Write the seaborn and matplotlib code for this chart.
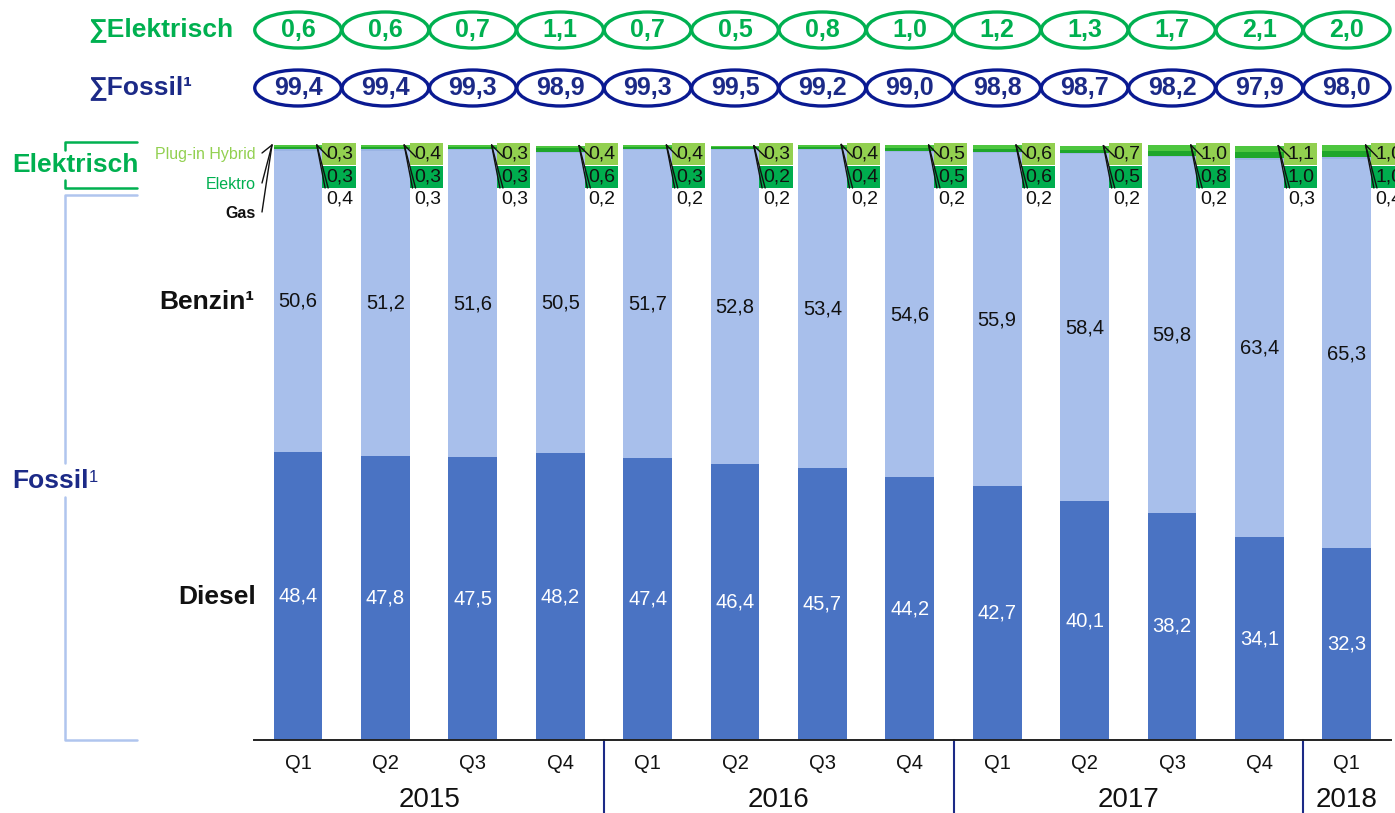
import numpy as np
import pandas as pd
import matplotlib
matplotlib.use("Agg")
import matplotlib.pyplot as plt
import seaborn as sns
from matplotlib.patches import Ellipse, Rectangle
from matplotlib.lines import Line2D
import matplotlib.transforms as mtransforms

# ---- data (share of new registrations, %) ----
quarters = ["Q1", "Q2", "Q3", "Q4", "Q1", "Q2", "Q3", "Q4", "Q1", "Q2", "Q3", "Q4", "Q1"]
year_labels = ["2015", "2016", "2017", "2018"]
year_centers = [1.5, 5.5, 9.5, 12.0]
year_breaks = [3.5, 7.5, 11.5]

diesel = [48.4, 47.8, 47.5, 48.2, 47.4, 46.4, 45.7, 44.2, 42.7, 40.1, 38.2, 34.1, 32.3]
benzin = [50.6, 51.2, 51.6, 50.5, 51.7, 52.8, 53.4, 54.6, 55.9, 58.4, 59.8, 63.4, 65.3]
gas = [0.4, 0.3, 0.3, 0.2, 0.2, 0.2, 0.2, 0.2, 0.2, 0.2, 0.2, 0.3, 0.4]
elektro = [0.3, 0.3, 0.3, 0.6, 0.3, 0.2, 0.4, 0.5, 0.6, 0.5, 0.8, 1.0, 1.0]
hybrid = [0.3, 0.4, 0.3, 0.4, 0.4, 0.3, 0.4, 0.5, 0.6, 0.7, 1.0, 1.1, 1.0]
sum_elektrisch = [0.6, 0.6, 0.7, 1.1, 0.7, 0.5, 0.8, 1.0, 1.2, 1.3, 1.7, 2.1, 2.0]
sum_fossil = [99.4, 99.4, 99.3, 98.9, 99.3, 99.5, 99.2, 99.0, 98.8, 98.7, 98.2, 97.9, 98.0]

periods = [f"{p}-{i}" for i, p in enumerate(quarters)]
n = len(periods)

# ---- colours ----
C_DIESEL = "#4A73C3"
C_BENZIN = "#A8BFEB"
C_GAS = "#9AB3E4"
C_ELEKTRO_BAR = "#1EA62A"
C_HYBRID_BAR = "#4DC63F"
C_ELEKTRO_BOX = "#00AD4E"
C_HYBRID_BOX = "#92D050"
C_GREEN = "#00B050"
C_NAVY = "#1C2A87"
C_NAVY_RING = "#0A1A92"
C_FOSSIL_LINE = "#B0C5EE"

sns.set_theme(style="white")
plt.rcParams["font.family"] = ["Liberation Sans", "DejaVu Sans"]

W, H = 1395, 813
fig = plt.figure(figsize=(W / 100, H / 100), dpi=100)


def fx(px):
    return px / W


def fy(py):
    return 1 - py / H


BASE_Y = 740
TOP_Y = 145
PX_PER_PCT = (BASE_Y - TOP_Y) / 100.0


def pct(py):
    """vertical pixel position -> data value on the bar axis"""
    return (BASE_Y - py) / PX_PER_PCT


ax = fig.add_axes([fx(254.3), fy(BASE_Y), 1136.2 / W, (BASE_Y - TOP_Y) / H])

# ---- stacked bars ----
layers = [
    (diesel, C_DIESEL),
    (benzin, C_BENZIN),
    (gas, C_GAS),
    (elektro, C_ELEKTRO_BAR),
    (hybrid, C_HYBRID_BAR),
]
bottom = np.zeros(n)
bottoms = []
for vals, col in layers:
    bottoms.append(bottom.copy())
    sns.barplot(x=periods, y=vals, order=periods, color=col, saturation=1,
                width=0.56, linewidth=0, errorbar=None, bottom=bottom.copy(), ax=ax)
    bottom = bottom + np.array(vals)
totals = bottom

ax.set_xlim(-0.5, 12.5)
ax.set_ylim(0, 100)
ax.set_yticks([])
ax.set_ylabel("")
ax.set_xlabel("")
for s in ["left", "right", "top"]:
    ax.spines[s].set_visible(False)
ax.spines["bottom"].set_color("#222222")
ax.spines["bottom"].set_linewidth(1.4)
ax.set_xticks(range(n))
ax.set_xticklabels(quarters, fontsize=14.5, color="#111111")
ax.tick_params(axis="x", length=0, pad=10)


def fmt(v):
    return f"{v:.1f}".replace(".", ",")


VAL_FS = 14.5
BOX_FS = 14

# values inside the bars
for i in range(n):
    ax.text(i, bottoms[0][i] + diesel[i] / 2, fmt(diesel[i]), ha="center", va="center",
            fontsize=VAL_FS, color="white")
    ax.text(i, bottoms[1][i] + benzin[i] / 2, fmt(benzin[i]), ha="center", va="center",
            fontsize=VAL_FS, color="#111111")

# small value boxes for the electric segments and gas
bw = 0.28
box_x0, box_w = bw, 0.38
for i in range(n):
    ax.add_patch(Rectangle((i + box_x0, pct(165)), box_w, pct(143) - pct(165),
                           facecolor=C_HYBRID_BOX, edgecolor="none", clip_on=False, zorder=3))
    ax.add_patch(Rectangle((i + box_x0, pct(188)), box_w, pct(166) - pct(188),
                           facecolor=C_ELEKTRO_BOX, edgecolor="none", clip_on=False, zorder=3))
    cx = i + box_x0 + box_w / 2 + 0.01
    ax.text(cx, pct(154), fmt(hybrid[i]), ha="center", va="center", fontsize=BOX_FS,
            color="#111111", zorder=4, clip_on=False)
    ax.text(cx, pct(177), fmt(elektro[i]), ha="center", va="center", fontsize=BOX_FS,
            color="#111111", zorder=4, clip_on=False)
    ax.text(cx, pct(199), fmt(gas[i]), ha="center", va="center", fontsize=BOX_FS,
            color="#111111", zorder=4, clip_on=False)
    top = totals[i]
    # leader lines from the bar top to the boxes
    for (x1, y1) in [(i + 0.35, pct(157)), (i + 0.31, pct(188)), (i + 0.345, pct(188))]:
        ax.add_line(Line2D([i + 0.215, x1], [top, y1], color="#111111", lw=1.0,
                           clip_on=False, zorder=5))

# year labels and separators below the axis
blend = mtransforms.blended_transform_factory(ax.transData, ax.transAxes)
ax_h = BASE_Y - TOP_Y
for xc, lab in zip(year_centers, year_labels):
    ax.text(xc, -(800 - BASE_Y) / ax_h, lab, transform=blend, ha="center", va="center",
            fontsize=20, color="#111111")
for xb in year_breaks:
    ax.add_line(Line2D([xb, xb], [0, -(813 - BASE_Y) / ax_h], transform=blend,
                       color=C_NAVY, lw=1.5, clip_on=False))

# ---- summary rings above the bars ----
ring_h = 36 / PX_PER_PCT
for i in range(n):
    ax.add_patch(Ellipse((i, pct(30)), 0.99, ring_h, fill=False, edgecolor=C_GREEN,
                         lw=2.4, clip_on=False))
    ax.text(i, pct(30), fmt(sum_elektrisch[i]), ha="center", va="center", fontsize=18,
            fontweight="bold", color=C_GREEN, clip_on=False)
    ax.add_patch(Ellipse((i, pct(88)), 0.99, ring_h, fill=False, edgecolor=C_NAVY_RING,
                         lw=2.4, clip_on=False))
    ax.text(i, pct(88), fmt(sum_fossil[i]), ha="center", va="center", fontsize=18,
            fontweight="bold", color=C_NAVY, clip_on=False)

fig.text(fx(88), fy(30), "∑Elektrisch", ha="left", va="center", fontsize=19,
         fontweight="bold", color=C_GREEN)
fig.text(fx(88), fy(88), "∑Fossil¹", ha="left", va="center", fontsize=19,
         fontweight="bold", color=C_NAVY)

# ---- segment names left of the first bar ----
fig.text(fx(256), fy(154), "Plug-in Hybrid", ha="right", va="center", fontsize=11.5,
         color=C_HYBRID_BOX)
fig.text(fx(256), fy(184), "Elektro", ha="right", va="center", fontsize=11.5,
         color=C_GREEN)
fig.text(fx(256), fy(213), "Gas", ha="right", va="center", fontsize=11.5,
         fontweight="bold", color="#111111")
for ly in [153, 183, 212]:
    fig.add_artist(Line2D([fx(262), fx(272)], [fy(ly), fy(145)], color="#111111", lw=1.0))

fig.text(fx(254), fy(302), "Benzin¹", ha="right", va="center", fontsize=19,
         fontweight="bold", color="#111111")
fig.text(fx(256), fy(597), "Diesel", ha="right", va="center", fontsize=19,
         fontweight="bold", color="#111111")

# ---- group brackets on the far left ----
def fline(xs, ys, col, lw=1.8):
    fig.add_artist(Line2D([fx(x) for x in xs], [fy(y) for y in ys], color=col, lw=lw))


fline([137, 65, 65], [142, 142, 150], C_GREEN)
fline([65, 65, 137], [180, 188, 188], C_GREEN)
fig.text(fx(12), fy(165), "Elektrisch", ha="left", va="center", fontsize=19,
         fontweight="bold", color=C_GREEN)

fline([137, 65, 65], [195, 195, 463], C_FOSSIL_LINE)
fline([65, 65, 137], [497, 740, 740], C_FOSSIL_LINE)
t_fossil = fig.text(fx(12), fy(481), "Fossil", ha="left", va="center", fontsize=19,
                    fontweight="bold", color=C_NAVY)
ax.annotate("1", xy=(1.0, 0.95), xycoords=t_fossil, ha="left", va="top", fontsize=12,
            color=C_NAVY, annotation_clip=False)

fig.savefig("out.png", dpi=100, facecolor="white")
